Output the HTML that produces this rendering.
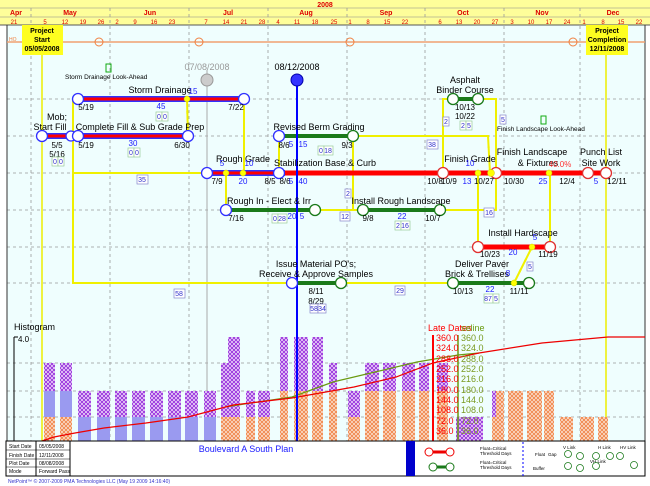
<!DOCTYPE html>
<html><head><meta charset="utf-8"><style>
body{margin:0;background:#fff}
svg{display:block;font-family:"Liberation Sans",sans-serif}
.t{font-size:9px;fill:#000}
.b{font-size:8px;fill:#1a1aff}
.s{font-size:7px;fill:#000}
.ax{font-size:9px;fill:#f00}
.gx{font-size:9px;fill:#7a9a20}
</style></head><body>
<svg width="650" height="486" viewBox="0 0 650 486" xmlns="http://www.w3.org/2000/svg">
<defs>
<pattern id="po" width="4" height="4" patternUnits="userSpaceOnUse"><rect width="4" height="4" fill="#fde6d8"/><path d="M0,4 L4,0 M0,0 L4,4" stroke="#f08a50" stroke-width="1"/></pattern>
<pattern id="pp" width="4" height="4" patternUnits="userSpaceOnUse"><rect width="4" height="4" fill="#fff"/><path d="M0,4 L4,0 M0,0 L4,4" stroke="#a040e0" stroke-width="1.2"/></pattern>
</defs>
<rect width="650" height="486" fill="#fff"/>
<rect x="7" y="25" width="638" height="416" fill="#effefe"/>
<!-- header -->
<rect x="0" y="0" width="650" height="25" fill="#fefe9a"/>
<line x1="0" y1="8" x2="650" y2="8" stroke="#888" stroke-width="0.5"/>
<line x1="0" y1="17" x2="650" y2="17" stroke="#888" stroke-width="0.5"/>
<line x1="0" y1="25" x2="650" y2="25" stroke="#555"/>
<text x="325" y="7" font-size="7" fill="#d00" text-anchor="middle" font-weight="bold">2008</text>
<g font-size="7" fill="#d00" text-anchor="middle" font-weight="bold">
<text x="16" y="15">Apr</text><text x="70" y="15">May</text><text x="150" y="15">Jun</text><text x="228" y="15">Jul</text><text x="306" y="15">Aug</text><text x="386" y="15">Sep</text><text x="463" y="15">Oct</text><text x="542" y="15">Nov</text><text x="613" y="15">Dec</text>
</g>
<g font-size="6" fill="#d00" text-anchor="middle">
<text x="14" y="24">21</text><text x="45" y="24">5</text><text x="65" y="24">12</text><text x="83" y="24">19</text><text x="101" y="24">26</text><text x="117" y="24">2</text><text x="135" y="24">9</text><text x="154" y="24">16</text><text x="172" y="24">23</text><text x="206" y="24">7</text><text x="226" y="24">14</text><text x="244" y="24">21</text><text x="262" y="24">28</text><text x="278" y="24">4</text><text x="297" y="24">11</text><text x="315" y="24">18</text><text x="334" y="24">25</text><text x="350" y="24">1</text><text x="368" y="24">8</text><text x="387" y="24">15</text><text x="405" y="24">22</text><text x="440" y="24">6</text><text x="459" y="24">13</text><text x="477" y="24">20</text><text x="495" y="24">27</text><text x="512" y="24">3</text><text x="531" y="24">10</text><text x="549" y="24">17</text><text x="567" y="24">24</text><text x="584" y="24">1</text><text x="603" y="24">8</text><text x="621" y="24">15</text><text x="639" y="24">22</text>
</g>
<g stroke="#999" stroke-dasharray="3,3" stroke-width="0.8">
<line x1="31" y1="8" x2="31" y2="441"/><line x1="110" y1="8" x2="110" y2="441"/><line x1="189" y1="8" x2="189" y2="441"/><line x1="268" y1="8" x2="268" y2="441"/><line x1="347" y1="8" x2="347" y2="441"/><line x1="425" y1="8" x2="425" y2="441"/><line x1="504" y1="8" x2="504" y2="441"/><line x1="580" y1="8" x2="580" y2="441"/>
<line x1="7" y1="99" x2="645" y2="99"/><line x1="7" y1="136" x2="645" y2="136"/><line x1="7" y1="173" x2="645" y2="173"/><line x1="7" y1="210" x2="645" y2="210"/><line x1="7" y1="247" x2="645" y2="247"/><line x1="7" y1="283" x2="645" y2="283"/><line x1="7" y1="363" x2="645" y2="363"/><line x1="7" y1="391" x2="645" y2="391"/><line x1="7" y1="417" x2="645" y2="417"/>
</g>
<line x1="7" y1="25" x2="7" y2="441" stroke="#333"/>
<line x1="645" y1="25" x2="645" y2="441" stroke="#333"/>
<line x1="207" y1="70" x2="207" y2="441" stroke="#aaa"/>
<!-- orange line -->
<line x1="7" y1="42" x2="645" y2="42" stroke="#f0a070" stroke-width="1.5"/>
<g fill="none" stroke="#f08040"><circle cx="99" cy="42" r="4"/><circle cx="199" cy="42" r="4"/><circle cx="350" cy="42" r="4"/><circle cx="573" cy="42" r="4"/></g>
<text x="9" y="41" font-size="5" fill="#f08040">HO</text>
<!-- project lines -->
<line x1="42" y1="55" x2="42" y2="441" stroke="#ee0" stroke-width="1.5"/>
<line x1="606" y1="55" x2="606" y2="441" stroke="#ee0" stroke-width="1.5"/>
<rect x="22" y="25" width="41" height="30" fill="#fefe20"/>
<text x="42" y="33" class="s" text-anchor="middle" font-weight="bold">Project</text><text x="42" y="42" class="s" text-anchor="middle" font-weight="bold">Start</text><text x="42" y="51" class="s" text-anchor="middle" font-weight="bold">05/05/2008</text>
<rect x="586" y="25" width="42" height="30" fill="#fefe20"/>
<text x="607" y="33" class="s" text-anchor="middle" font-weight="bold">Project</text><text x="607" y="42" class="s" text-anchor="middle" font-weight="bold">Completion</text><text x="607" y="51" class="s" text-anchor="middle" font-weight="bold">12/11/2008</text>
<!-- histogram bars -->
<g id="bars">
<rect x="44" y="417" width="11" height="24" fill="url(#po)"/><rect x="44" y="391" width="11" height="26" fill="#9a9af0"/><rect x="44" y="363" width="11" height="28" fill="url(#pp)"/>
<rect x="60" y="417" width="12" height="24" fill="url(#po)"/><rect x="60" y="391" width="12" height="26" fill="#9a9af0"/><rect x="60" y="363" width="12" height="28" fill="url(#pp)"/>
<g fill="#9a9af0"><rect x="78" y="417" width="13" height="24"/><rect x="97" y="417" width="13" height="24"/><rect x="115" y="417" width="12" height="24"/><rect x="132" y="417" width="13" height="24"/><rect x="150" y="417" width="13" height="24"/><rect x="168" y="417" width="13" height="24"/><rect x="185" y="417" width="13" height="24"/><rect x="204" y="417" width="12" height="24"/></g>
<g fill="url(#pp)"><rect x="78" y="391" width="13" height="26"/><rect x="97" y="391" width="13" height="26"/><rect x="115" y="391" width="12" height="26"/><rect x="132" y="391" width="13" height="26"/><rect x="150" y="391" width="13" height="26"/><rect x="168" y="391" width="13" height="26"/><rect x="185" y="391" width="13" height="26"/><rect x="204" y="391" width="12" height="26"/></g>
<rect x="221" y="417" width="19" height="24" fill="url(#po)"/><rect x="221" y="363" width="7" height="54" fill="url(#pp)"/><rect x="228" y="337" width="12" height="80" fill="url(#pp)"/>
<rect x="246" y="417" width="9" height="24" fill="url(#po)"/><rect x="246" y="391" width="9" height="26" fill="url(#pp)"/>
<rect x="258" y="417" width="12" height="24" fill="url(#po)"/><rect x="258" y="391" width="12" height="26" fill="url(#pp)"/>
<g fill="url(#po)"><rect x="280" y="391" width="8" height="50"/><rect x="294" y="391" width="14" height="50"/><rect x="312" y="391" width="11" height="50"/><rect x="329" y="391" width="8" height="50"/><rect x="348" y="417" width="12" height="24"/><rect x="365" y="391" width="14" height="50"/><rect x="383" y="391" width="13" height="50"/><rect x="402" y="391" width="13" height="50"/><rect x="419" y="391" width="10" height="50"/><rect x="437" y="391" width="11" height="50"/><rect x="492" y="391" width="12" height="50"/><rect x="508" y="391" width="15" height="50"/><rect x="527" y="391" width="15" height="50"/><rect x="544" y="391" width="10" height="50"/><rect x="560" y="417" width="13" height="24"/><rect x="580" y="417" width="14" height="24"/><rect x="598" y="417" width="10" height="24"/></g>
<g fill="url(#pp)"><rect x="280" y="337" width="8" height="54"/><rect x="294" y="337" width="14" height="54"/><rect x="312" y="337" width="11" height="54"/><rect x="329" y="363" width="8" height="28"/><rect x="348" y="391" width="12" height="26"/><rect x="365" y="363" width="14" height="28"/><rect x="383" y="363" width="13" height="28"/><rect x="402" y="363" width="13" height="28"/><rect x="419" y="363" width="10" height="28"/><rect x="437" y="363" width="11" height="28"/><rect x="456" y="417" width="27" height="24"/><rect x="492" y="391" width="4" height="26"/></g>
</g>
<!-- histogram axis -->
<line x1="14" y1="337" x2="14" y2="441" stroke="#000"/><line x1="14" y1="337" x2="18" y2="337" stroke="#000"/>
<text x="14" y="330" class="t">Histogram</text><text x="18" y="342" font-size="8" fill="#000">4.0</text>
<!-- cumulative lines -->
<polyline fill="none" stroke="#6a9a10" stroke-width="1.2" points="225,407 258,402 292,397 333,382 375,372 417,362 458,355 479,353"/>
<polyline fill="none" stroke="#e00" stroke-width="1.2" points="42,441 54,437 75,433 104,428 146,423 188,417 233,405 292,398 354,387 396,377 433,363 479,353 542,343 608,337 645,337"/>
<line x1="433" y1="335" x2="433" y2="441" stroke="#f00" stroke-width="2"/>
<line x1="458" y1="335" x2="458" y2="441" stroke="#6a9a10" stroke-width="1.5"/>
<text x="428" y="331" font-size="9" fill="#f00">Late Dates</text><text x="461" y="331" font-size="9" fill="#6a9a10">seline</text>
<g class="ax"><text x="436" y="341">360.0</text><text x="436" y="351">324.0</text><text x="436" y="362">288.0</text><text x="436" y="372">252.0</text><text x="436" y="382">216.0</text><text x="436" y="393">180.0</text><text x="436" y="403">144.0</text><text x="436" y="413">108.0</text><text x="436" y="424">72.0</text><text x="436" y="434">36.0</text></g>
<g class="gx"><text x="461" y="341">360.0</text><text x="461" y="351">324.0</text><text x="461" y="362">288.0</text><text x="461" y="372">252.0</text><text x="461" y="382">216.0</text><text x="461" y="393">180.0</text><text x="461" y="403">144.0</text><text x="461" y="413">108.0</text><text x="461" y="424">72.0</text><text x="461" y="434">36.0</text></g>
<!-- blue date line -->
<line x1="297" y1="74" x2="297" y2="441" stroke="#00f" stroke-width="2"/>
<!-- yellow dashed links -->
<path id="yl" d="M73,99 L78,99 M73,99 L73,283 L292,283 M73,173 L207,173 M187,99 L188,136 M244,99 L244,173 M279,136 L279,173 M226,173 L226,210 M353,136 L353,210 L363,210 M315,210 L363,210 M353,136 L488,136 L490,173 M443,173 L443,99 L453,99 M478,99 L496,99 L496,210 L440,210 M478,173 L478,247 M550,173 L550,247 M514,283 L532,247 M341,283 L453,283" fill="none" stroke="#f0f000" stroke-width="2"/>
<use href="#yl" style="stroke:#e02020;stroke-dasharray:3,9;stroke-width:1.5"/>
<!-- critical lines -->
<g stroke="#3030ff" stroke-width="6"><line x1="78" y1="99" x2="244" y2="99"/><line x1="42" y1="136" x2="188" y2="136"/><line x1="207" y1="173" x2="285" y2="173"/></g>
<g stroke="#f00" stroke-width="3"><line x1="78" y1="99" x2="244" y2="99"/><line x1="42" y1="136" x2="188" y2="136"/><line x1="207" y1="173" x2="285" y2="173"/></g>
<g stroke="#f00" stroke-width="5"><line x1="285" y1="173" x2="606" y2="173"/><line x1="478" y1="247" x2="550" y2="247"/></g>
<g stroke="#1a7a1a" stroke-width="4"><line x1="279" y1="136" x2="353" y2="136"/><line x1="226" y1="210" x2="315" y2="210"/><line x1="363" y1="210" x2="440" y2="210"/><line x1="453" y1="99" x2="478" y2="99"/><line x1="292" y1="283" x2="341" y2="283"/><line x1="453" y1="283" x2="529" y2="283"/></g>
<line x1="297" y1="74" x2="297" y2="300" stroke="#00f" stroke-width="2"/>
<!-- nodes -->
<g fill="#fff" stroke="#3030ff" stroke-width="1.3"><circle cx="42" cy="136" r="5.5"/><circle cx="71" cy="136" r="5"/><circle cx="78" cy="136" r="5.5"/><circle cx="78" cy="99" r="5.5"/><circle cx="244" cy="99" r="5.5"/><circle cx="188" cy="136" r="5.5"/><circle cx="207" cy="173" r="5.5"/><circle cx="279" cy="136" r="5.5"/><circle cx="279" cy="173" r="5.5"/><circle cx="226" cy="210" r="5.5"/><circle cx="292" cy="283" r="5.5"/></g>
<g fill="#fff" stroke="#e03030" stroke-width="1.3"><circle cx="443" cy="173" r="5.5"/><circle cx="496" cy="173" r="5.5"/><circle cx="588" cy="173" r="5.5"/><circle cx="606" cy="173" r="5.5"/><circle cx="478" cy="247" r="5.5"/><circle cx="550" cy="247" r="5.5"/></g>
<g fill="#fff" stroke="#1a7a1a" stroke-width="1.3"><circle cx="353" cy="136" r="5.5"/><circle cx="315" cy="210" r="5.5"/><circle cx="363" cy="210" r="5.5"/><circle cx="440" cy="210" r="5.5"/><circle cx="453" cy="99" r="5.5"/><circle cx="478" cy="99" r="5.5"/><circle cx="341" cy="283" r="5.5"/><circle cx="453" cy="283" r="5.5"/><circle cx="529" cy="283" r="5.5"/></g>
<g fill="#ff0" stroke="#cc0" stroke-width="0.5"><circle cx="187" cy="99" r="3"/><circle cx="226" cy="173" r="3"/><circle cx="243" cy="173" r="3"/><circle cx="478" cy="173" r="3"/><circle cx="491" cy="173" r="3.5"/><circle cx="549" cy="173" r="3"/><circle cx="532" cy="247" r="3"/><circle cx="514" cy="283" r="3"/></g>
<circle cx="207" cy="80" r="6" fill="#ccc" stroke="#999"/><circle cx="297" cy="80" r="6" fill="#33f" stroke="#00a"/>
<!-- labels -->
<text x="207" y="70" font-size="9" fill="#999" text-anchor="middle">07/08/2008</text>
<text x="297" y="70" font-size="9" fill="#000" text-anchor="middle">08/12/2008</text>
<rect x="106" y="64" width="5" height="8" fill="none" stroke="#1a1"/>
<text x="65" y="79" font-size="6.5" fill="#000">Storm Drainage Look-Ahead</text>
<rect x="541" y="116" width="5" height="8" fill="none" stroke="#1a1"/>
<text x="497" y="131" font-size="6.5" fill="#000">Finish Landscape Look-Ahead</text>
<g class="t" text-anchor="middle">
<text x="160" y="93">Storm Drainage</text>
<text x="57" y="120">Mob;</text><text x="50" y="130">Start Fill</text>
<text x="140" y="130">Complete Fill &amp; Sub Grade Prep</text>
<text x="319" y="130">Revised Berm Grading</text>
<text x="243" y="162">Rough Grade</text>
<text x="325" y="166">Stabilization Base &amp; Curb</text>
<text x="470" y="162">Finish Grade</text>
<text x="532" y="155">Finish Landscape</text><text x="538" y="166">&amp; Fixtures</text>
<text x="601" y="155">Punch List</text><text x="601" y="166">Site Work</text>
<text x="465" y="83">Asphalt</text><text x="465" y="93">Binder Course</text>
<text x="269" y="204">Rough In - Elect &amp; Irr</text>
<text x="401" y="204">Install Rough Landscape</text>
<text x="523" y="236">Install Hardscape</text>
<text x="316" y="267">Issue Material PO's;</text><text x="316" y="277">Receive &amp; Approve Samples</text>
<text x="482" y="267">Deliver Paver</text><text x="477" y="277">Brick &amp; Trellises</text>
</g>
<g font-size="8" fill="#000" text-anchor="middle">
<text x="86" y="110">5/19</text><text x="236" y="110">7/22</text><text x="57" y="148">5/5</text><text x="57" y="157">5/16</text><text x="86" y="148">5/19</text><text x="182" y="148">6/30</text><text x="284" y="148">8/6</text><text x="347" y="148">9/3</text>
<text x="217" y="184">7/9</text><text x="270" y="184">8/5</text><text x="285" y="184">8/6</text><text x="435" y="184">10/8</text><text x="449" y="184">10/9</text><text x="484" y="184">10/27</text><text x="514" y="184">10/30</text><text x="567" y="184">12/4</text><text x="617" y="184">12/11</text>
<text x="465" y="110">10/13</text><text x="465" y="119">10/22</text><text x="236" y="221">7/16</text><text x="368" y="221">9/8</text><text x="433" y="221">10/7</text>
<text x="490" y="257">10/23</text><text x="548" y="257">11/19</text><text x="316" y="294">8/11</text><text x="316" y="304">8/29</text><text x="463" y="294">10/13</text><text x="519" y="294">11/11</text>
</g>
<g class="b" text-anchor="middle">
<text x="193" y="94">15</text><text x="161" y="109">45</text><text x="133" y="146">30</text><text x="291" y="147">5</text><text x="303" y="147">15</text><text x="222" y="166">5</text><text x="249" y="166">10</text><text x="243" y="184">20</text><text x="291" y="184">5</text><text x="303" y="184">40</text>
<text x="470" y="166">10</text><text x="467" y="184">13</text><text x="543" y="184">25</text><text x="596" y="184">5</text><text x="292" y="219">20</text><text x="302" y="219">5</text><text x="402" y="219">22</text><text x="535" y="240">5</text><text x="513" y="255">20</text><text x="490" y="292">22</text><text x="508" y="276">8</text>
</g>
<text x="560" y="167" font-size="8" fill="#f33" text-anchor="middle">40.0%</text>
<g fill="#fff" stroke="#88c" stroke-width="0.7"><rect x="137" y="175" width="11" height="9"/><rect x="174" y="289" width="11" height="9"/><rect x="427" y="140" width="11" height="9"/><rect x="443" y="117" width="6" height="9"/><rect x="500" y="115" width="6" height="9"/><rect x="340" y="212" width="10" height="9"/><rect x="345" y="189" width="6" height="9"/><rect x="484" y="208" width="10" height="9"/><rect x="527" y="262" width="6" height="9"/><rect x="395" y="286" width="10" height="9"/><rect x="310" y="304" width="8" height="9"/><rect x="318" y="304" width="8" height="9"/></g>
<g font-size="7" fill="#33c" text-anchor="middle"><text x="142" y="182">35</text><text x="179" y="296">58</text><text x="432" y="147">38</text><text x="446" y="124">2</text><text x="503" y="122">5</text><text x="345" y="219">12</text><text x="348" y="196">2</text><text x="489" y="215">16</text><text x="530" y="269">5</text><text x="400" y="293">29</text><text x="314" y="311">58</text><text x="322" y="311">34</text></g>
<g fill="#fff" stroke="#9c9" stroke-width="0.7"><rect x="156" y="112" width="6" height="9"/><rect x="162" y="112" width="6" height="9"/><rect x="128" y="148" width="6" height="9"/><rect x="134" y="148" width="6" height="9"/><rect x="52" y="157" width="6" height="9"/><rect x="58" y="157" width="6" height="9"/><rect x="318" y="146" width="6" height="9"/><rect x="324" y="146" width="9" height="9"/><rect x="272" y="214" width="6" height="9"/><rect x="278" y="214" width="9" height="9"/><rect x="460" y="121" width="6" height="9"/><rect x="466" y="121" width="6" height="9"/><rect x="395" y="221" width="6" height="9"/><rect x="401" y="221" width="9" height="9"/><rect x="484" y="294" width="9" height="9"/><rect x="493" y="294" width="6" height="9"/></g>
<g font-size="7" fill="#33c" text-anchor="middle"><text x="159" y="119">0</text><text x="165" y="119">0</text><text x="131" y="155">0</text><text x="137" y="155">0</text><text x="55" y="164">0</text><text x="61" y="164">0</text><text x="321" y="153">0</text><text x="328" y="153">18</text><text x="275" y="221">0</text><text x="282" y="221">28</text><text x="463" y="128">2</text><text x="469" y="128">5</text><text x="398" y="228">2</text><text x="405" y="228">16</text><text x="488" y="301">87</text><text x="496" y="301">5</text></g>
<!-- title block -->
<rect x="6" y="441" width="639" height="35" fill="#fff" stroke="#000"/>
<line x1="70" y1="441" x2="70" y2="476" stroke="#000"/><line x1="36" y1="441" x2="36" y2="476" stroke="#000"/>
<g stroke="#000" stroke-width="0.5"><line x1="6" y1="450" x2="70" y2="450"/><line x1="6" y1="459" x2="70" y2="459"/><line x1="6" y1="467" x2="70" y2="467"/></g>
<g font-size="5" fill="#000"><text x="9" y="448">Start Date</text><text x="9" y="457">Finish Date</text><text x="9" y="465">Plot Date</text><text x="9" y="473">Mode</text><text x="39" y="448">05/05/2008</text><text x="39" y="457">12/11/2008</text><text x="39" y="465">08/08/2008</text><text x="39" y="473">Forward Pass</text></g>
<text x="246" y="452" font-size="9" fill="#1a1aff" text-anchor="middle">Boulevard A South Plan</text>
<rect x="406" y="441" width="9" height="35" fill="#00c"/>
<line x1="523" y1="442" x2="523" y2="476" stroke="#00f" stroke-dasharray="2,2"/>
<line x1="429" y1="452" x2="450" y2="452" stroke="#e00" stroke-width="3"/><circle cx="429" cy="452" r="4" fill="#fff" stroke="#e00"/><circle cx="450" cy="452" r="4" fill="#fff" stroke="#e00"/>
<line x1="433" y1="467" x2="450" y2="467" stroke="#1a7a1a" stroke-width="3"/><circle cx="433" cy="467" r="4" fill="#fff" stroke="#1a7a1a"/><circle cx="450" cy="467" r="4" fill="#fff" stroke="#1a7a1a"/>
<g font-size="4.5" fill="#000"><text x="480" y="450">Float=Critical</text><text x="480" y="455">Threshold Days</text><text x="480" y="464">Float=Critical</text><text x="480" y="469">Threshold Days</text><text x="535" y="456">Float</text><text x="548" y="456">Gap</text><text x="533" y="470">Buffer</text><text x="563" y="449">V Link</text><text x="598" y="449">H Link</text><text x="620" y="449">HV Link</text><text x="590" y="463">VH Link</text></g>
<g fill="none" stroke="#1a7a1a" stroke-width="0.8"><circle cx="568" cy="454" r="3.5"/><circle cx="568" cy="466" r="3.5"/><circle cx="580" cy="456" r="3.5"/><circle cx="596" cy="456" r="3.5"/><circle cx="610" cy="456" r="3.5"/><circle cx="620" cy="456" r="3.5"/><circle cx="634" cy="465" r="3.5"/><circle cx="580" cy="468" r="3.5"/><circle cx="596" cy="466" r="3.5"/></g>
<text x="8" y="483" font-size="5" fill="#33c">NetPoint™ © 2007-2009 PMA Technologies LLC   (May 19 2009 14:16:40)</text>
</svg>
</body></html>
